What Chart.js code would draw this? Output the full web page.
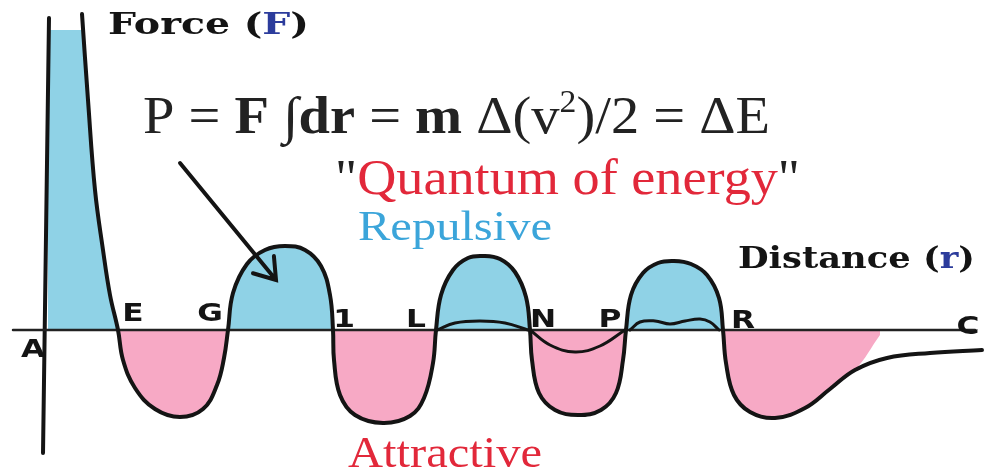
<!DOCTYPE html>
<html>
<head>
<meta charset="utf-8">
<script src="https://cdn.jsdelivr.net/npm/chart.js@4/dist/chart.umd.min.js"></script>
<style>
    html, body { margin: 0; padding: 0; background: #fff; }
    #wrap { width: 994px; height: 472px; position: relative; }
</style>
</head>
<body>
<div id="wrap"><canvas id="forceChart"></canvas></div>
<script>
// main force curve: distance r against force F
const curveR = [3.7, 4.3, 5.0, 5.8, 6.5, 7.3,
    7.8, 9.0, 11.0, 13.5, 15.8, 17.2, 17.9, 18.3,
    18.8, 20.2, 22.0, 24.0, 26.0, 27.6, 28.5, 28.8,
    28.9, 29.5, 31.0, 33.8, 36.5, 37.9, 38.8, 39.1,
    39.6, 40.8, 42.3, 43.8, 45.5, 47.0, 48.1, 48.5,
    48.7, 49.4, 51.0, 53.3, 55.6, 57.1, 57.8, 58.1,
    58.6, 59.8, 61.3, 62.9, 64.6, 66.2, 67.4, 67.8,
    68.1, 68.9, 70.5, 73.0, 76.0, 78.5, 81.0, 84.2, 88.5, 93.7];
const curveF = [31.6, 23.0, 14.0, 8.0, 3.5, 0,
    -3.0, -5.8, -7.9, -8.7, -7.9, -5.5, -2.8, 0,
    3.7, 6.6, 8.0, 8.4, 8.0, 6.4, 3.5, 0,
    -3.0, -6.5, -8.5, -9.3, -8.6, -6.8, -3.3, 0,
    3.5, 6.0, 7.2, 7.4, 7.1, 5.8, 3.3, 0,
    -3.0, -6.3, -8.0, -8.5, -8.0, -6.3, -3.0, 0,
    3.5, 5.7, 6.7, 6.9, 6.6, 5.5, 3.2, 0,
    -3.3, -6.5, -8.2, -8.8, -7.8, -5.9, -4.0, -2.8, -2.3, -2.0];

// shaded block next to the F axis, and where the shading of the tail stops
const blockR = [0.3, 3.8];
const blockF = [30.0, 30.0];
const shadeEndR = 81.0;
const tailEndR = [83.5];
const tailEndF = [-0.5];

// small inner waves between the lobes
const humpR = [39.2, 41.0, 43.5, 46.0, 48.3];
const humpF = [0, 0.7, 0.9, 0.7, 0];
const dipR = [48.5, 50.5, 53.0, 55.5, 58.0];
const dipF = [0, -1.5, -2.2, -1.6, 0];
const wiggleR = [58.5, 59.5, 61.0, 62.5, 64.0, 65.5, 66.5, 67.4];
const wiggleF = [0, 0.8, 0.9, 0.6, 0.9, 1.1, 0.8, 0];

// axes
const rAxisR = [-3.2, 93.0];
const rAxisF = [0, 0];
const fAxisR = [0.4, -0.2];
const fAxisF = [31.2, -12.3];

// letters along the r axis
const pointLabels = ['A', 'E', 'G', '1', 'L', 'N', 'P', 'R', 'C'];

const pts = (xs, ys) => xs.map((v, i) => ({ x: v, y: ys[i] }));

const curvePts = pts(curveR, curveF);
const blockPts = pts(blockR, blockF).concat(curvePts.slice(1).filter(p => p.x <= 7.3));
const shadePts = curvePts.slice(1).filter(p => p.x <= shadeEndR).concat(pts(tailEndR, tailEndF));

const BLUE = '#8fd2e6';
const PINK = '#f7a9c5';
const RED = '#e2283a';
const INK = '#141414';

// where the letters and captions sit (r, F)
const labelSpots = [[-1.2, -2.0], [8.8, 1.6], [16.5, 1.6], [29.9, 1.0], [37.1, 1.0],
    [49.8, 1.0], [56.5, 1.0], [69.8, 0.9], [92.3, 0.3]];

const captions = [
    { r0: 6.3, r1: 26.4, f: 29.6, size: 30, family: '"DejaVu Serif"', parts: [
        { t: 'Force (', c: INK, b: true }, { t: 'F', c: '#2c3c9c', b: true }, { t: ')', c: INK, b: true }] },
    { r0: 9.8, r1: 72.5, f: 19.7, size: 52, family: '"Liberation Serif"', parts: [
        { t: 'P = ', c: '#222' }, { t: 'F', c: '#222', b: true }, { t: ' \u222B', c: '#222' },
        { t: 'dr', c: '#222', b: true }, { t: ' = ', c: '#222' }, { t: 'm', c: '#222', b: true },
        { t: ' \u0394(v', c: '#222' }, { t: '2', c: '#222', sup: true }, { t: ')/2 = \u0394E', c: '#222' }] },
    { r0: 29.0, r1: 75.5, f: 13.6, size: 50, family: '"Liberation Serif"', parts: [
        { t: '"', c: '#222' }, { t: 'Quantum of energy', c: RED }, { t: '"', c: '#222' }] },
    { r0: 31.3, r1: 50.7, f: 9.0, size: 42, family: '"Liberation Serif"', parts: [
        { t: 'Repulsive', c: '#3ba5da' }] },
    { r0: 69.3, r1: 93.0, f: 6.2, size: 30, family: '"DejaVu Serif"', parts: [
        { t: 'Distance (', c: INK, b: true }, { t: 'r', c: '#2c3c9c', b: true }, { t: ')', c: INK, b: true }] },
    { r0: 30.3, r1: 49.7, f: -13.7, size: 44, family: '"Liberation Serif"', parts: [
        { t: 'Attractive', c: RED }] }
];

const arrowFrom = [13.5, 16.7];
const arrowTo = [23.1, 5.0];

function partFont(cap, p) {
    const s = p.sup ? Math.round(cap.size * 0.6) : cap.size;
    return (p.b ? 'bold ' : '') + s + 'px ' + cap.family;
}

// draws a caption made of coloured runs, stretched to its span
function drawCaption(ctx, cap, xs, ys) {
    let natural = 0;
    cap.parts.forEach(p => {
        ctx.font = partFont(cap, p);
        natural += ctx.measureText(p.t).width;
    });
    const x0 = xs.getPixelForValue(cap.r0);
    const x1 = xs.getPixelForValue(cap.r1);
    const y0 = ys.getPixelForValue(cap.f);
    ctx.save();
    ctx.translate(x0, y0);
    ctx.scale((x1 - x0) / natural, 1);
    ctx.textAlign = 'left';
    ctx.textBaseline = 'alphabetic';
    let cx = 0;
    cap.parts.forEach(p => {
        ctx.font = partFont(cap, p);
        ctx.fillStyle = p.c;
        ctx.fillText(p.t, cx, p.sup ? -cap.size * 0.4 : 0);
        cx += ctx.measureText(p.t).width;
    });
    ctx.restore();
}

const annotations = {
    id: 'annotations',
    afterDatasetsDraw(chart) {
        const { ctx, scales: { x, y } } = chart;
        ctx.save();

        ctx.font = 'bold 25px "DejaVu Sans"';
        ctx.textAlign = 'center';
        ctx.textBaseline = 'middle';
        ctx.fillStyle = INK;
        pointLabels.forEach((t, i) => {
            ctx.save();
            ctx.translate(x.getPixelForValue(labelSpots[i][0]), y.getPixelForValue(labelSpots[i][1]));
            ctx.scale(1.25, 1);
            ctx.fillText(t, 0, 0);
            ctx.restore();
        });

        captions.forEach(c => drawCaption(ctx, c, x, y));

        // arrow pointing into the first repulsive lobe
        const ax = x.getPixelForValue(arrowFrom[0]), ay = y.getPixelForValue(arrowFrom[1]);
        const bx = x.getPixelForValue(arrowTo[0]), by = y.getPixelForValue(arrowTo[1]);
        const ang = Math.atan2(by - ay, bx - ax);
        ctx.strokeStyle = INK;
        ctx.lineWidth = 4;
        ctx.lineCap = 'round';
        ctx.beginPath();
        ctx.moveTo(ax, ay);
        ctx.lineTo(bx, by);
        ctx.moveTo(bx - 24 * Math.cos(ang - 0.6), by - 24 * Math.sin(ang - 0.6));
        ctx.lineTo(bx, by);
        ctx.lineTo(bx - 24 * Math.cos(ang + 0.6), by - 24 * Math.sin(ang + 0.6));
        ctx.stroke();

        ctx.restore();
    }
};

const lineStyle = {
    pointRadius: 0,
    borderColor: INK,
    borderJoinStyle: 'round',
    borderCapStyle: 'round',
    tension: 0.4,
    fill: false
};

const shadeStyle = {
    pointRadius: 0,
    borderWidth: 0,
    borderColor: 'rgba(0,0,0,0)',
    backgroundColor: BLUE,
    fill: { target: 'origin', above: BLUE, below: PINK },
    order: 5
};

new Chart(document.getElementById('forceChart'), {
    type: 'line',
    data: {
        datasets: [
            { ...lineStyle, data: curvePts, borderWidth: 4, order: 1 },
            { ...lineStyle, data: pts(humpR, humpF), borderWidth: 3, order: 2 },
            { ...lineStyle, data: pts(dipR, dipF), borderWidth: 3, order: 2 },
            { ...lineStyle, data: pts(wiggleR, wiggleF), borderWidth: 3, order: 2 },
            { ...lineStyle, data: pts(rAxisR, rAxisF), borderWidth: 2.5, borderColor: '#222', tension: 0, order: 4 },
            { ...lineStyle, data: pts(fAxisR, fAxisF), borderWidth: 4, tension: 0, order: 4 },
            { ...shadeStyle, data: blockPts, tension: 0 },
            { ...shadeStyle, data: shadePts, tension: 0.4 }
        ]
    },
    options: {
        responsive: true,
        maintainAspectRatio: false,
        animation: false,
        layout: { padding: 0 },
        plugins: { legend: { display: false }, tooltip: { enabled: false } },
        scales: {
            x: { type: 'linear', display: false, min: -4.5, max: 94.9 },
            y: { type: 'linear', display: false, min: -14.2, max: 33.0 }
        }
    },
    plugins: [annotations]
});
</script>
</body>
</html>
